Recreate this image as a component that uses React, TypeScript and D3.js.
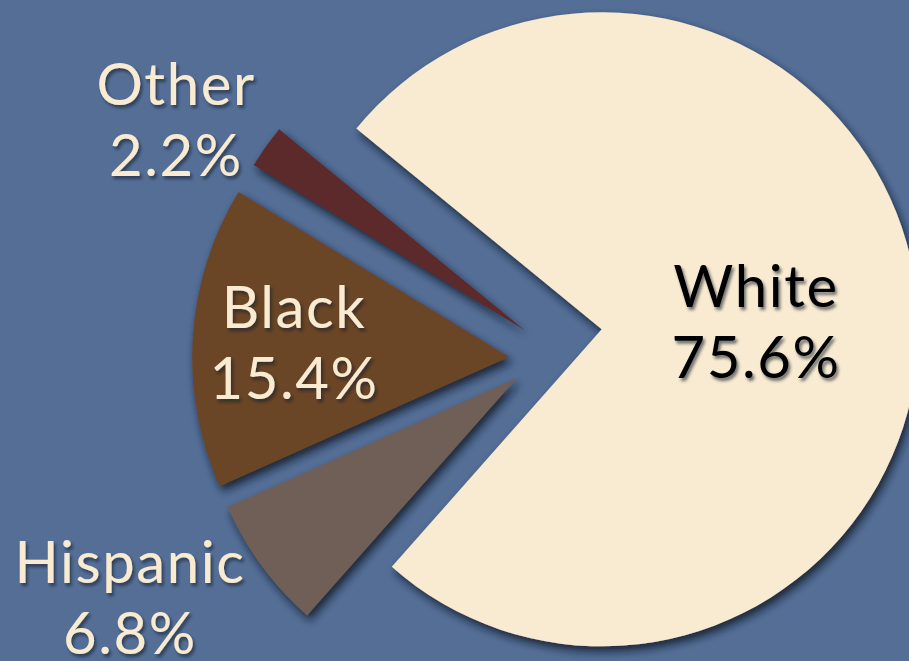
import React from "react";
import * as d3 from "d3";

// ---- data ----
const categories = ["White", "Hispanic", "Black", "Other"];
const values = [75.6, 6.8, 15.4, 2.2];
const valueLabels = ["75.6%", "6.8%", "15.4%", "2.2%"];

// ---- layout / style ----
const W = 909;
const H = 661;
const BG = "#546e96";
const sliceColors: Record<string, string> = {
  White: "#f9ebd1",
  Hispanic: "#6f5e57",
  Black: "#6b4428",
  Other: "#5b2a2c",
};
const labelColors: Record<string, string> = {
  White: "#000000",
  Hispanic: "#f9ebd1",
  Black: "#f9ebd1",
  Other: "#f9ebd1",
};
const CENTER = { x: 601.7, y: 329.3 };
const RADIUS = 317;
const START_DEG = -50.7;
// explode offsets of each slice from the pie centre
const explode: Record<string, [number, number]> = {
  White: [0, 0],
  Hispanic: [-84.7, 48.7],
  Black: [-92.5, 27.8],
  Other: [-77.3, 0.7],
};
// label anchors (centre x, first baseline y)
const labelPos: Record<string, [number, number]> = {
  White: [756, 306.7],
  Hispanic: [130, 583.3],
  Black: [294, 328.3],
  Other: [176, 105],
};
const LINE_GAP = 71;
const FONT = "Lato, 'Open Sans', sans-serif";
const FONT_SIZE = 58;
const LETTER_SPACING = 1.6;

export default function App() {
  const rad = (d: number) => (d * Math.PI) / 180;
  const pie = d3
    .pie<number>()
    .sort(null)
    .value((d) => d)
    .startAngle(rad(START_DEG))
    .endAngle(rad(START_DEG + 360));
  const arcs = pie(values);
  const arcGen = d3.arc<d3.PieArcDatum<number>>().innerRadius(0).outerRadius(RADIUS);

  return (
    <div style={{ position: "absolute", left: 0, top: 0, width: W, height: H }}>
      <svg width={W} height={H} style={{ display: "block" }}>
        <defs>
          <filter id="shadow" x="-20%" y="-20%" width="140%" height="140%">
            <feDropShadow dx="3" dy="5" stdDeviation="4.5" floodColor="#0b1426" floodOpacity="0.85" />
          </filter>
          <filter id="tshadow" x="-20%" y="-20%" width="140%" height="140%">
            <feDropShadow dx="2" dy="3" stdDeviation="1.8" floodColor="#111a2c" floodOpacity="0.6" />
          </filter>
        </defs>
        <rect x={0} y={0} width={W} height={H} fill={BG} />
        <g transform={`translate(${CENTER.x},${CENTER.y})`}>
          {arcs.map((a, i) => {
            const c = categories[i];
            const [dx, dy] = explode[c];
            return (
              <path
                key={c}
                d={arcGen(a) || ""}
                transform={`translate(${dx},${dy})`}
                fill={sliceColors[c]}
                filter="url(#shadow)"
              />
            );
          })}
        </g>
        {categories.map((c, i) => {
          const [x, y] = labelPos[c];
          return (
            <text
              key={c}
              x={x}
              y={y}
              textAnchor="middle"
              fontFamily={FONT}
              fontSize={FONT_SIZE}
              letterSpacing={LETTER_SPACING}
              fill={labelColors[c]}
              filter="url(#tshadow)"
            >
              <tspan x={x} y={y}>{c}</tspan>
              <tspan x={x} y={y + LINE_GAP}>{valueLabels[i]}</tspan>
            </text>
          );
        })}
      </svg>
    </div>
  );
}
